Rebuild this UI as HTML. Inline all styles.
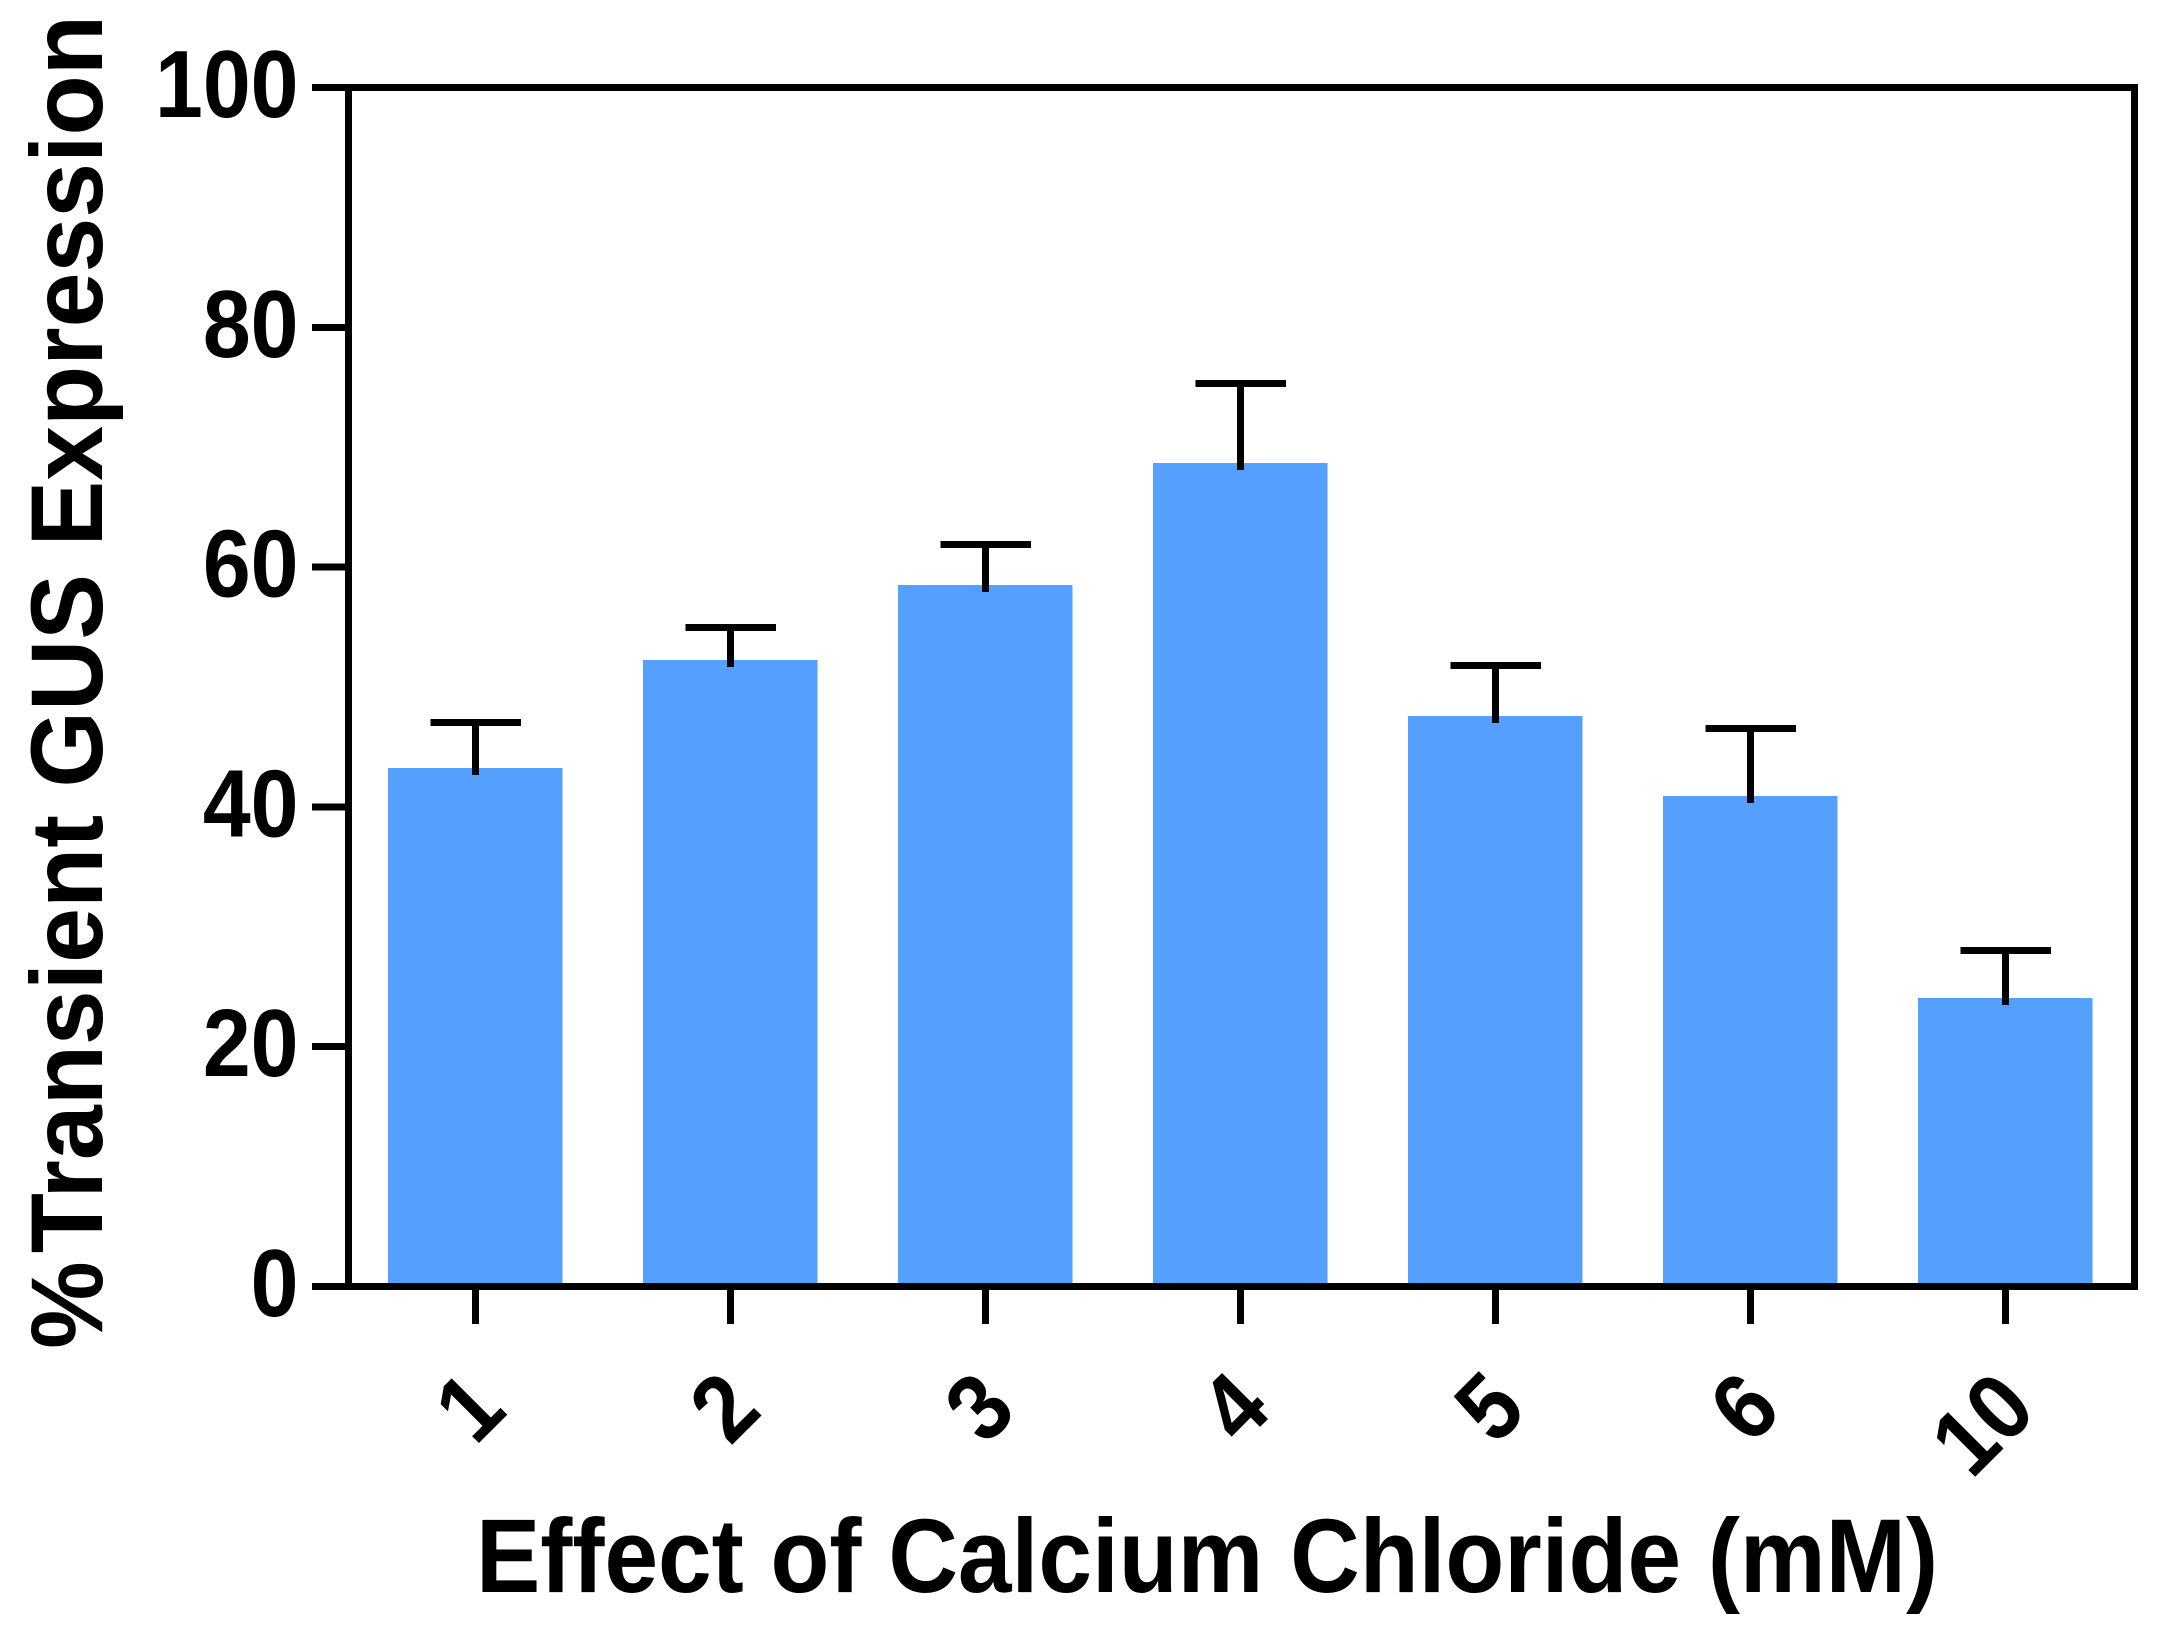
<!DOCTYPE html>
<html lang="en">
<head>
<meta charset="utf-8">
<title>Effect of Calcium Chloride on Transient GUS Expression</title>
<style>
html,body{margin:0;padding:0;background:#fff;width:2172px;height:1637px;overflow:hidden}
svg{display:block}
text{font-family:"Liberation Sans",Arial,sans-serif;font-weight:bold;fill:#000}
</style>
</head>
<body>
<svg id="chart" xmlns="http://www.w3.org/2000/svg" width="2172" height="1637" viewBox="0 0 2172 1637">
  <rect x="0" y="0" width="2172" height="1637" fill="#ffffff"/>
  <g id="bars"></g>
  <g id="errors"></g>
  <rect x="348.5" y="87.5" width="1786" height="1199" fill="none" stroke="#000" stroke-width="7" shape-rendering="crispEdges"/>
  <g id="yticks"></g>
  <g id="xticks"></g>
  <text transform="translate(1207,1592) scale(1,1.09)" text-anchor="middle" font-size="96.4">Effect of Calcium Chloride (mM)</text>
  <text transform="translate(102,682) rotate(-90) scale(1,1.04)" text-anchor="middle" font-size="98.6">%<tspan dx="8">Transient GUS Expression</tspan></text>
</svg>
<script>
const categories = ['1', '2', '3', '4', '5', '6', '10'];
const means = [43.24, 52.25, 58.51, 68.68, 47.58, 40.91, 24.06];
const errorTops = [47.04, 54.96, 61.88, 75.31, 51.79, 46.54, 28.02];
const yTickValues = [0, 20, 40, 60, 80, 100];

const NS = 'http://www.w3.org/2000/svg';
function yScale(v) { return 1286.5 - v * 11.99; }
function xScale(i) { return 475.5 + i * 255; }
function make(tag, attrs, parent) {
  const el = document.createElementNS(NS, tag);
  for (const k in attrs) el.setAttribute(k, attrs[k]);
  parent.appendChild(el);
  return el;
}
const barsG = document.getElementById('bars');
const errG = document.getElementById('errors');
const yG = document.getElementById('yticks');
const xG = document.getElementById('xticks');

categories.forEach(function (cat, i) {
  const cx = xScale(i);
  const top = yScale(means[i]);
  const capY = yScale(errorTops[i]);

  const bar = make('rect', {x: cx - 87.4, y: top, width: 174.6, height: yScale(0) - top, fill: '#559fff', 'shape-rendering': 'crispEdges'}, barsG);
  
  

  const stem = make('line', {x1: cx, x2: cx, y1: capY, y2: top + 7, stroke: '#000', 'stroke-width': 7, 'shape-rendering': 'crispEdges'}, errG);
  
  

  const cap = make('line', {x1: cx - 45, x2: cx + 45.5, y1: capY, y2: capY, stroke: '#000', 'stroke-width': 7, 'shape-rendering': 'crispEdges'}, errG);
  
  

  const tick = make('line', {x1: cx, x2: cx, y1: 1290, y2: 1324, stroke: '#000', 'stroke-width': 7, 'shape-rendering': 'crispEdges'}, xG);
  
  

  const px = cx + 33.5, py = 1413;
  const label = make('text', {x: 0, y: 0, 'text-anchor': 'end', 'font-size': 86, transform: 'translate(' + px + ' ' + py + ') rotate(-45) scale(1 1.1)'}, xG);
  label.textContent = cat;
  
  
});

yTickValues.forEach(function (v) {
  const y = yScale(v);
  const tick = make('line', {x1: 312, x2: 345, y1: y, y2: y, stroke: '#000', 'stroke-width': 7, 'shape-rendering': 'crispEdges'}, yG);
  
  

  const label = make('text', {x: 0, y: 0, 'text-anchor': 'end', 'font-size': 86, transform: 'translate(298.5 ' + (y + 29.5) + ') scale(1 1.11)'}, yG);
  label.textContent = String(v);
  
  
});
</script>
</body>
</html>
